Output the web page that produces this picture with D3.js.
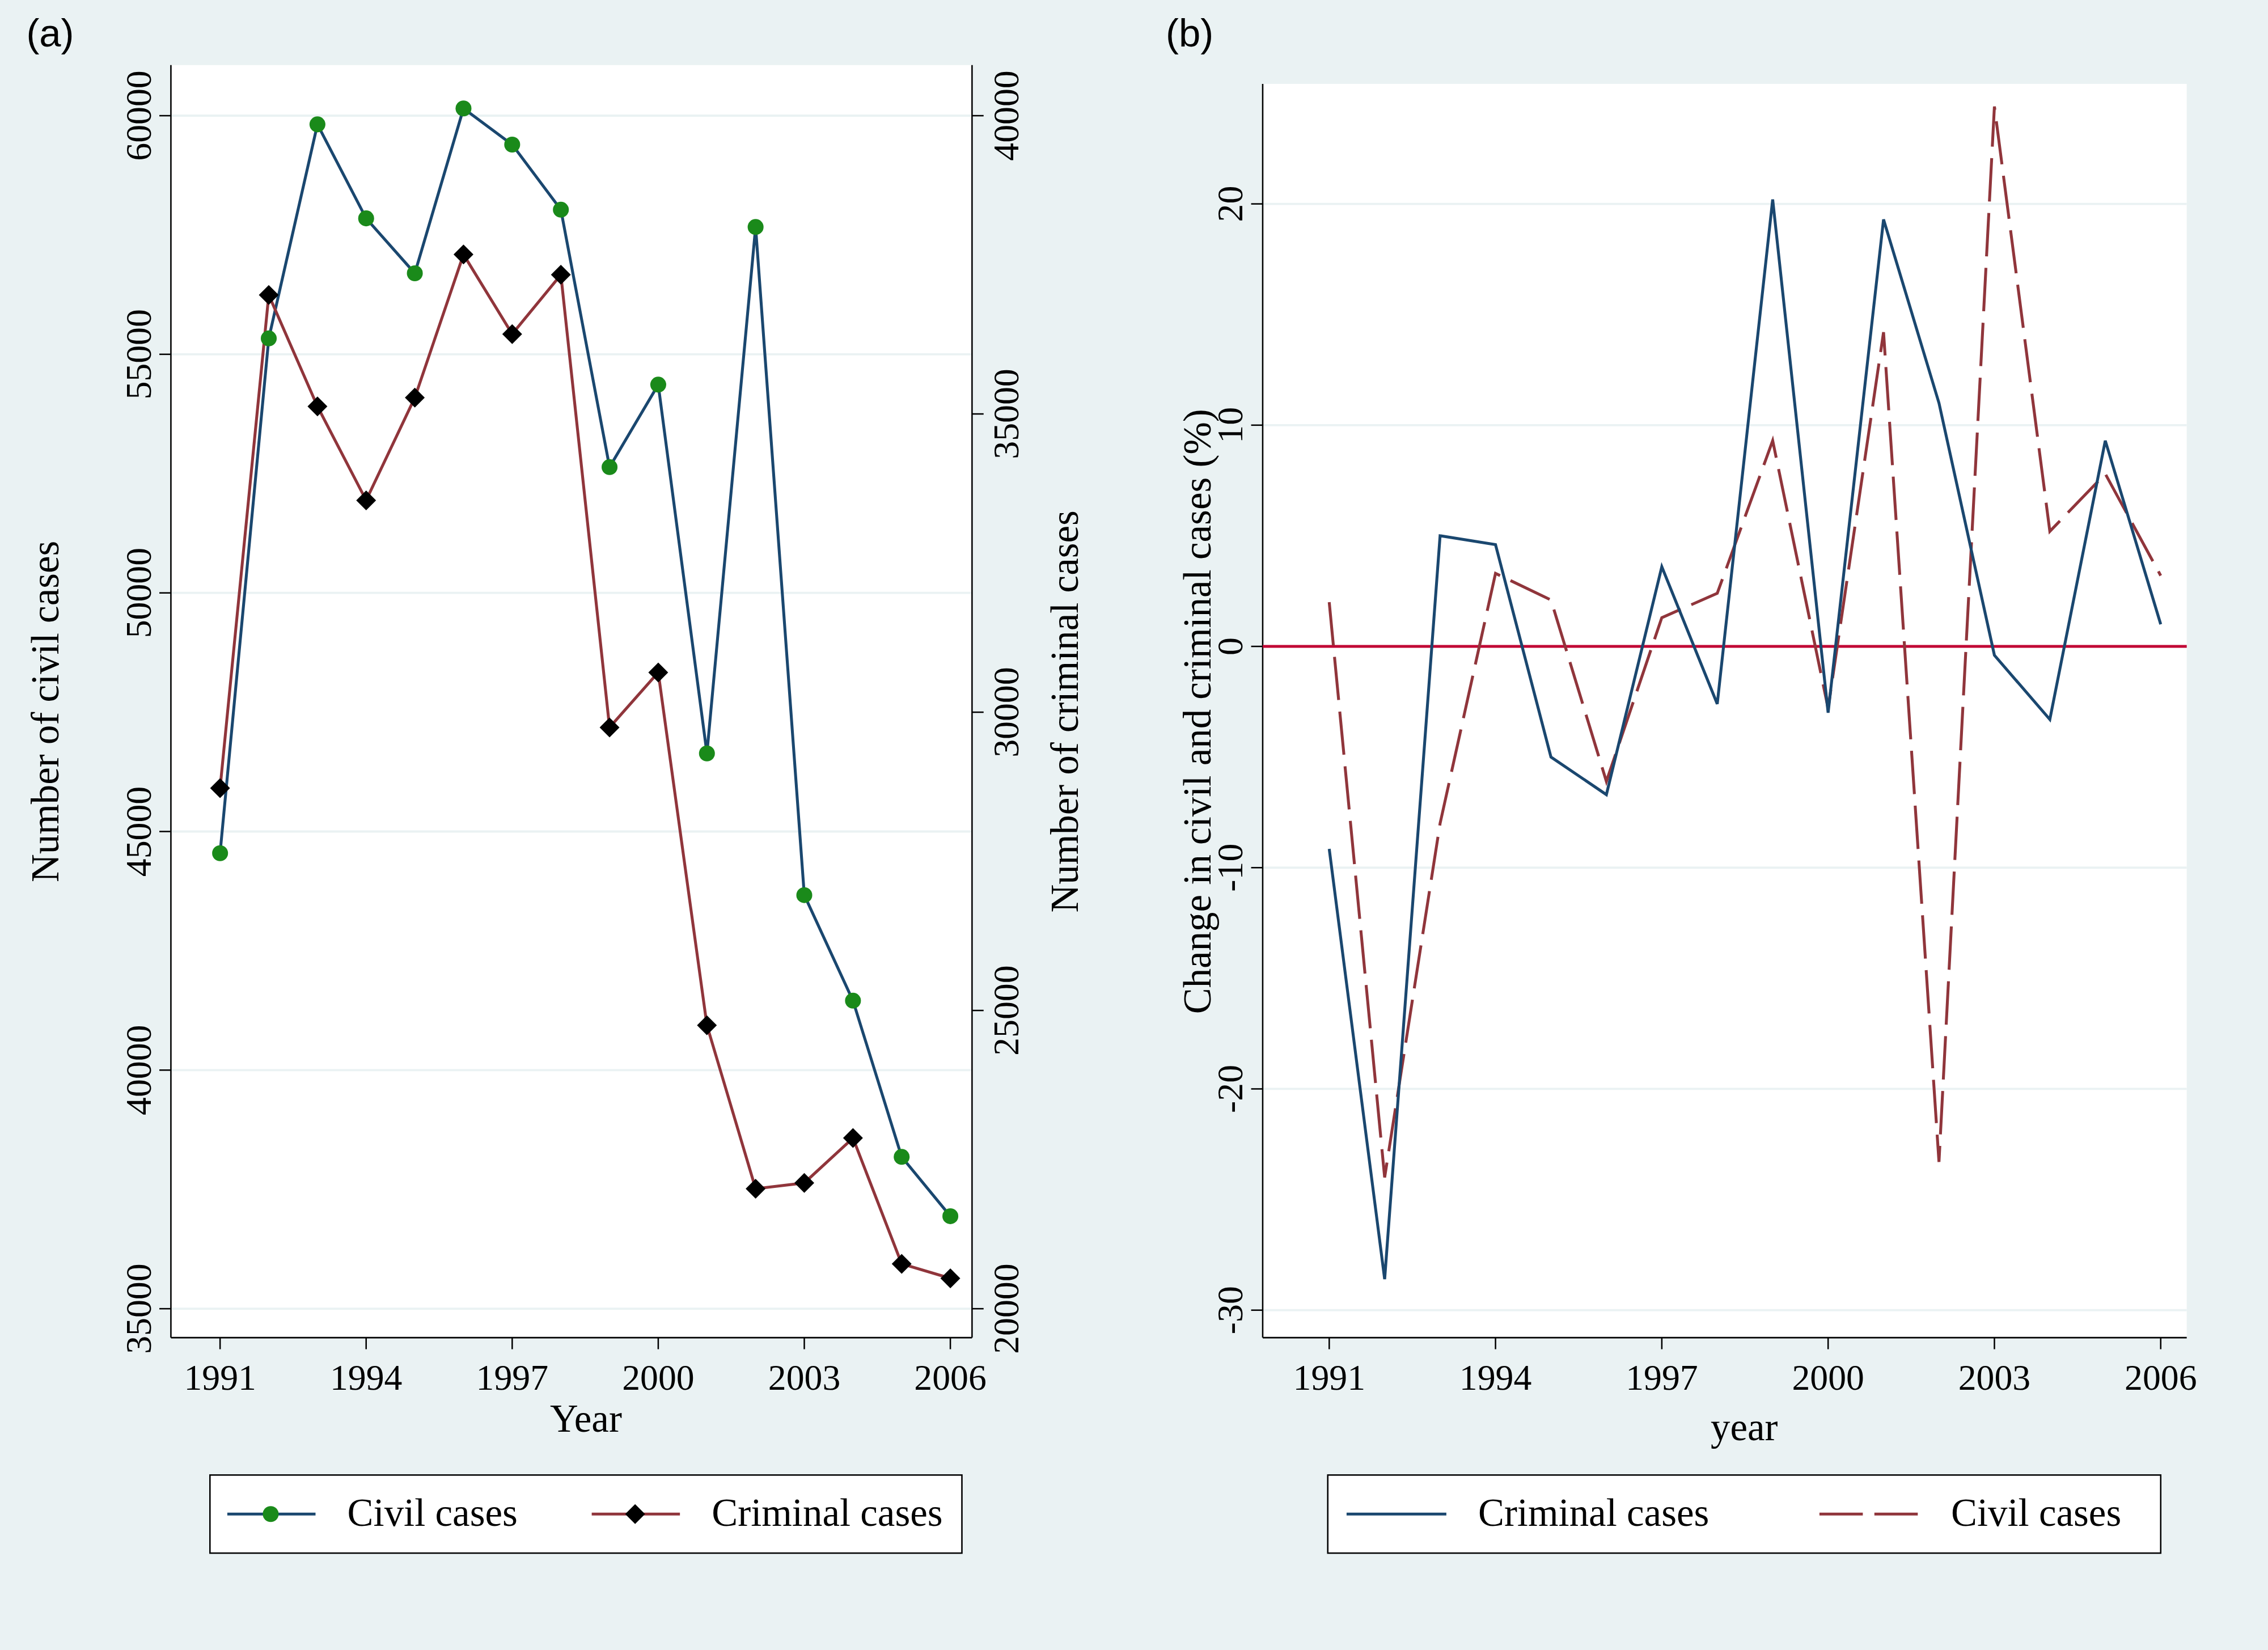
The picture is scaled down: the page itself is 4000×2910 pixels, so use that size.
<!DOCTYPE html>
<html><head><meta charset="utf-8">
<script src="https://cdn.jsdelivr.net/npm/d3@7"></script>
<style>body{margin:0;background:#eaf2f3}</style></head>
<body><svg id="c" width="4000" height="2910" viewBox="0 0 1568 1141"></svg>
<script>
const years=[1991,1992,1993,1994,1995,1996,1997,1998,1999,2000,2001,2002,2003,2004,2005,2006];
const civilCases=[44545,55333,59818,57848,56697,60152,59394,58030,52636,54364,46636,57667,43667,41455,38182,36939];
const criminalCases=[28727,36994,35127,33552,35273,37673,36339,37333,29745,30667,24752,22012,22109,22861,20752,20509];
const criminalChange=[-9.15,-28.6,5.0,4.6,-5.0,-6.7,3.6,-2.6,20.2,-3.0,19.3,11.0,-0.4,-3.3,9.3,1.0];
const civilChange=[2.0,-24,-8,3.3,2.1,-6.1,1.3,2.4,9.3,-2.8,14.2,-23.3,24.4,5.2,7.8,3.2];
const xTicks=[1991,1994,1997,2000,2003,2006];
const civilTicks=[35000,40000,45000,50000,55000,60000];
const crimTicks=[20000,25000,30000,35000,40000];
const chgTicks=[-30,-20,-10,0,10,20];

const svg=d3.select("#c");
svg.append("rect").attr("width",1568).attr("height",1141).attr("fill","#eaf2f3");
const serif="Liberation Serif, Times New Roman, serif";
const blue="#1a476f",red="#90353b";
const TF=25, AF=27, LF=27;

// ---- Panel (a)
const L={x0:118,x1:672,y0:45,y1:925};
svg.append("rect").attr("x",L.x0).attr("y",L.y0).attr("width",L.x1-L.x0).attr("height",L.y1-L.y0).attr("fill","#fff");
const xa=d3.scaleLinear().domain([1991,2006]).range([152,657]);
const yc=d3.scaleLinear().domain([35000,60000]).range([905,80]);
const yk=d3.scaleLinear().domain([20000,40000]).range([905,80]);
civilTicks.forEach(t=>svg.append("line").attr("x1",L.x0).attr("x2",L.x1).attr("y1",yc(t)).attr("y2",yc(t)).attr("stroke","#eaf2f3").attr("stroke-width",1.5));
const axA=svg.append("g");
axA.append("line").attr("x1",L.x0).attr("x2",L.x0).attr("y1",L.y0).attr("y2",L.y1).attr("stroke","#000");
axA.append("line").attr("x1",L.x1).attr("x2",L.x1).attr("y1",L.y0).attr("y2",L.y1).attr("stroke","#000");
axA.append("line").attr("x1",L.x0).attr("x2",L.x1).attr("y1",L.y1).attr("y2",L.y1).attr("stroke","#000");
civilTicks.forEach(t=>{const y=yc(t);
 axA.append("line").attr("x1",L.x0-8).attr("x2",L.x0).attr("y1",y).attr("y2",y).attr("stroke","#000");
 axA.append("text").attr("transform",`translate(${L.x0-14},${y}) rotate(-90)`).attr("text-anchor","middle").attr("font-family",serif).attr("font-size",TF).text(t);});
crimTicks.forEach(t=>{const y=yk(t);
 axA.append("line").attr("x1",L.x1).attr("x2",L.x1+8).attr("y1",y).attr("y2",y).attr("stroke","#000");
 axA.append("text").attr("transform",`translate(${L.x1+32},${y}) rotate(-90)`).attr("text-anchor","middle").attr("font-family",serif).attr("font-size",TF).text(t);});
xTicks.forEach(t=>{const x=xa(t);
 axA.append("line").attr("x1",x).attr("x2",x).attr("y1",L.y1).attr("y2",L.y1+8).attr("stroke","#000");
 axA.append("text").attr("x",x).attr("y",L.y1+36).attr("text-anchor","middle").attr("font-family",serif).attr("font-size",TF).text(t);});
axA.append("text").attr("x",405).attr("y",990).attr("text-anchor","middle").attr("font-family",serif).attr("font-size",AF).text("Year");
axA.append("text").attr("transform","translate(40,492) rotate(-90)").attr("text-anchor","middle").attr("font-family",serif).attr("font-size",AF).text("Number of civil cases");
axA.append("text").attr("transform","translate(745,492) rotate(-90)").attr("text-anchor","middle").attr("font-family",serif).attr("font-size",AF).text("Number of criminal cases");
const lineC=d3.line().x((d,i)=>xa(years[i])).y(d=>yc(d));
const lineK=d3.line().x((d,i)=>xa(years[i])).y(d=>yk(d));
svg.append("path").attr("d",lineC(civilCases)).attr("fill","none").attr("stroke",blue).attr("stroke-width",2);
svg.append("path").attr("d",lineK(criminalCases)).attr("fill","none").attr("stroke",red).attr("stroke-width",2);
civilCases.forEach((d,i)=>svg.append("circle").attr("cx",xa(years[i])).attr("cy",yc(d)).attr("r",5.5).attr("fill","#1a8a1a"));
const dia=d3.symbol().type(d3.symbolDiamond2).size(120);
criminalCases.forEach((d,i)=>svg.append("path").attr("d",dia()).attr("transform",`translate(${xa(years[i])},${yk(d)})`).attr("fill","#000"));
// legend a
svg.append("rect").attr("x",145).attr("y",1020).attr("width",520).attr("height",54).attr("fill","#fff").attr("stroke","#000");
svg.append("line").attr("x1",157).attr("x2",218).attr("y1",1047).attr("y2",1047).attr("stroke",blue).attr("stroke-width",2);
svg.append("circle").attr("cx",187).attr("cy",1047).attr("r",5.5).attr("fill","#1a8a1a");
svg.append("text").attr("x",240).attr("y",1055).attr("font-family",serif).attr("font-size",LF).text("Civil cases");
svg.append("line").attr("x1",409).attr("x2",470).attr("y1",1047).attr("y2",1047).attr("stroke",red).attr("stroke-width",2);
svg.append("path").attr("d",dia()).attr("transform","translate(439,1047)").attr("fill","#000");
svg.append("text").attr("x",492).attr("y",1055).attr("font-family",serif).attr("font-size",LF).text("Criminal cases");
svg.append("text").attr("x",18).attr("y",32).attr("font-family","Liberation Sans, Arial").attr("font-size",27).text("(a)");

// ---- Panel (b)
const R={x0:873,x1:1512,y0:58,y1:925};
svg.append("rect").attr("x",R.x0).attr("y",R.y0).attr("width",R.x1-R.x0).attr("height",R.y1-R.y0).attr("fill","#fff");
const xb=d3.scaleLinear().domain([1991,2006]).range([919,1494]);
const yb=d3.scaleLinear().domain([-30,20]).range([906,141]);
chgTicks.forEach(t=>svg.append("line").attr("x1",R.x0).attr("x2",R.x1).attr("y1",yb(t)).attr("y2",yb(t)).attr("stroke","#eaf2f3").attr("stroke-width",1.5));
const axB=svg.append("g");
axB.append("line").attr("x1",R.x0).attr("x2",R.x0).attr("y1",R.y0).attr("y2",R.y1).attr("stroke","#000");
axB.append("line").attr("x1",R.x0).attr("x2",R.x1).attr("y1",R.y1).attr("y2",R.y1).attr("stroke","#000");
chgTicks.forEach(t=>{const y=yb(t);
 axB.append("line").attr("x1",R.x0-8).attr("x2",R.x0).attr("y1",y).attr("y2",y).attr("stroke","#000");
 axB.append("text").attr("transform",`translate(${R.x0-14},${y}) rotate(-90)`).attr("text-anchor","middle").attr("font-family",serif).attr("font-size",TF).text(t);});
xTicks.forEach(t=>{const x=xb(t);
 axB.append("line").attr("x1",x).attr("x2",x).attr("y1",R.y1).attr("y2",R.y1+8).attr("stroke","#000");
 axB.append("text").attr("x",x).attr("y",R.y1+36).attr("text-anchor","middle").attr("font-family",serif).attr("font-size",TF).text(t);});
axB.append("text").attr("x",1206).attr("y",996).attr("text-anchor","middle").attr("font-family",serif).attr("font-size",AF).text("year");
axB.append("text").attr("transform","translate(837,492) rotate(-90)").attr("text-anchor","middle").attr("font-family",serif).attr("font-size",AF).text("Change in civil and criminal cases (%)");
svg.append("line").attr("x1",R.x0).attr("x2",R.x1).attr("y1",yb(0)).attr("y2",yb(0)).attr("stroke","#c10534").attr("stroke-width",2);
const lineB=d3.line().x((d,i)=>xb(years[i])).y(d=>yb(d));
svg.append("path").attr("d",lineB(civilChange)).attr("fill","none").attr("stroke",red).attr("stroke-width",2).attr("stroke-dasharray","30,8");
svg.append("path").attr("d",lineB(criminalChange)).attr("fill","none").attr("stroke",blue).attr("stroke-width",2);
svg.append("rect").attr("x",918).attr("y",1020).attr("width",576).attr("height",54).attr("fill","#fff").attr("stroke","#000");
svg.append("line").attr("x1",931).attr("x2",1000).attr("y1",1047).attr("y2",1047).attr("stroke",blue).attr("stroke-width",2);
svg.append("text").attr("x",1022).attr("y",1055).attr("font-family",serif).attr("font-size",LF).text("Criminal cases");
svg.append("line").attr("x1",1258).attr("x2",1327).attr("y1",1047).attr("y2",1047).attr("stroke",red).attr("stroke-width",2).attr("stroke-dasharray","30,8");
svg.append("text").attr("x",1349).attr("y",1055).attr("font-family",serif).attr("font-size",LF).text("Civil cases");
svg.append("text").attr("x",806).attr("y",32).attr("font-family","Liberation Sans, Arial").attr("font-size",27).text("(b)");
</script></body></html>
